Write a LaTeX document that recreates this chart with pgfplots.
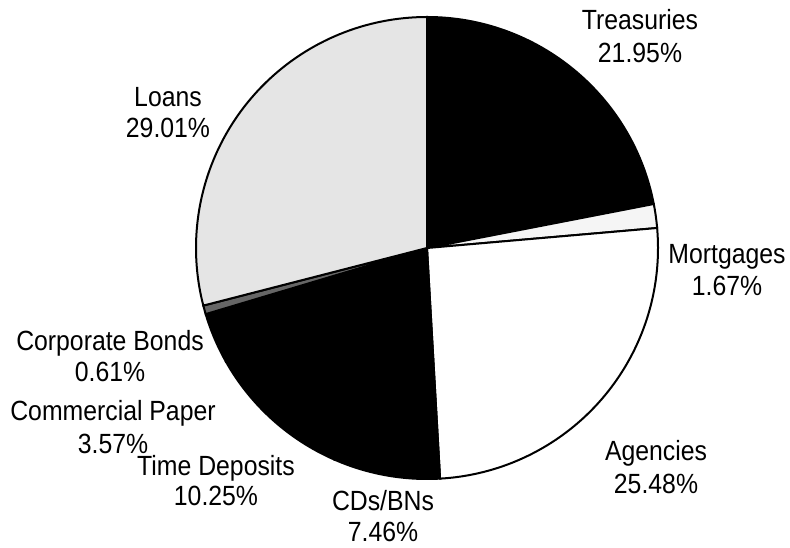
\documentclass[border=0pt]{standalone}
\usepackage{pgfplots}
\pgfplotsset{compat=1.18}
\usepackage{pgfplotstable}
\usepackage{graphicx}
\usepackage{fontspec}
\setmainfont{Liberation Sans}

% share of each holding, clockwise from 12 o'clock; gray = fill darkness
\pgfplotstableread{
name pct gray
Treasuries 21.95 100
Mortgages 1.67 4
Agencies 25.48 0
CDsBNs 7.46 100
TimeDeposits 10.25 100
CommercialPaper 3.57 100
CorporateBonds 0.61 60
Loans 29.01 10
}\pietable
\pgfplotstablecreatecol[create col/expr accum={\pgfmathaccuma+\thisrow{pct}}{0}]{cum}\pietable
\pgfplotstablecreatecol[create col/expr={90-3.6*(\thisrow{cum}-\thisrow{pct})}]{sa}\pietable
\pgfplotstablecreatecol[create col/expr={90-3.6*\thisrow{cum}}]{ea}\pietable

\def\pierad{115.5pt}

\newcommand{\lbl}[5]{%
  \node[anchor=base, inner sep=0pt, font=\fontsize{12.4}{14}\selectfont] at (axis cs:#1,#2) {\scalebox{1}[1.12]{#4}};
  \node[anchor=base, inner sep=0pt, font=\fontsize{12.4}{14}\selectfont] at (axis cs:#1,#3) {\scalebox{1}[1.12]{#5}};
}

\begin{document}
\begin{tikzpicture}
\begin{axis}[
    hide axis,
    x=0.5pt, y=0.5pt,
    xmin=0, xmax=790,
    ymin=0, ymax=547,
    clip=false,
]
\addplot[scatter, only marks, mark=*, mark size=0pt,
    mark options={draw=none, fill=none},
    point meta=explicit,
    visualization depends on={\thisrow{sa} \as \slicestart},
    visualization depends on={\thisrow{ea} \as \sliceend},
    visualization depends on={\thisrow{gray} \as \slicegray},
    scatter/@pre marker code/.code={%
      \pgfmathsetmacro\gg{round(\slicegray)}%
      \filldraw[fill=black!\gg, draw=black, line width=1pt]
        (0pt,0pt) -- (\slicestart:\pierad)
        arc[start angle=\slicestart, end angle=\sliceend, radius=\pierad] -- cycle;
    },
    scatter/@post marker code/.code={},
] table[x expr=427, y expr=299, meta=gray] {\pietable};

\lbl{640}{517}{484}{Treasuries}{21.95\%}
\lbl{727}{284}{252}{Mortgages}{1.67\%}
\lbl{656}{87}{54}{Agencies}{25.48\%}
\lbl{383}{37}{6}{CDs/BNs}{7.46\%}
\lbl{216}{72}{42}{Time Deposits}{10.25\%}
\lbl{113}{127}{94}{Commercial Paper}{3.57\%}
\lbl{110}{197}{166}{Corporate Bonds}{0.61\%}
\lbl{168}{440}{409}{Loans}{29.01\%}
\end{axis}
\pgfresetboundingbox
\useasboundingbox (current axis.south west) rectangle (current axis.north east);
\end{tikzpicture}
\end{document}
